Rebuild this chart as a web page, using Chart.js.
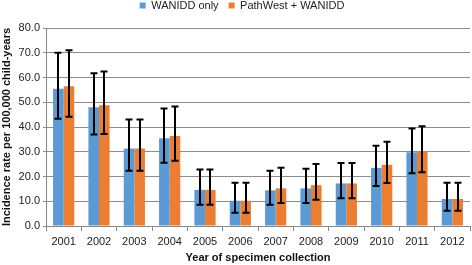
<!DOCTYPE html>
<html>
<head>
<meta charset="utf-8">
<script src="https://cdn.jsdelivr.net/npm/chart.js@4/dist/chart.umd.min.js"></script>
<style>
  html, body { margin: 0; padding: 0; background: #fff; }
  #wrap { width: 472px; height: 265px; }
</style>
</head>
<body>
<div id="wrap"><canvas id="chart"></canvas></div>
<script>
const years = ['2001', '2002', '2003', '2004', '2005', '2006', '2007', '2008', '2009', '2010', '2011', '2012'];

const wanidd = [55.5, 48.0, 31.3, 35.5, 14.6, 10.2, 14.4, 15.2, 17.2, 23.5, 29.8, 10.9];
const wanidLow = [43.3, 37.0, 22.3, 25.6, 8.6, 5.4, 8.6, 9.3, 11.2, 16.2, 21.3, 6.2];
const wanidHigh = [70.0, 61.7, 43.0, 47.5, 22.8, 17.5, 22.3, 23.1, 25.5, 32.4, 39.4, 17.5];

const pathwest = [56.5, 48.8, 31.3, 36.4, 14.6, 10.2, 15.2, 16.5, 17.2, 24.7, 30.1, 10.9];
const pathLow = [44.1, 37.2, 22.3, 26.4, 8.6, 5.4, 9.3, 10.6, 11.2, 17.4, 21.7, 6.2];
const pathHigh = [71.0, 62.4, 43.0, 48.3, 22.8, 17.5, 23.5, 25.1, 25.5, 34.0, 40.3, 17.5];

const yTicks = [0, 10, 20, 30, 40, 50, 60, 70, 80];

const lows = [wanidLow, pathLow];
const highs = [wanidHigh, pathHigh];

// draws the confidence whiskers on top of the bars
const errorBars = {
    id: 'errorBars',
    afterDatasetsDraw(chart) {
        const ctx = chart.ctx;
        const y = chart.scales.y;
        ctx.save();
        ctx.strokeStyle = '#000';
        ctx.lineWidth = 2;
        chart.data.datasets.forEach((ds, d) => {
            chart.getDatasetMeta(d).data.forEach((bar, i) => {
                const x = Math.round(bar.x);
                const top = y.getPixelForValue(highs[d][i]);
                const bottom = y.getPixelForValue(lows[d][i]);
                ctx.beginPath();
                ctx.moveTo(x, top);
                ctx.lineTo(x, bottom);
                ctx.moveTo(x - 3.5, top);
                ctx.lineTo(x + 3.5, top);
                ctx.moveTo(x - 3.5, bottom);
                ctx.lineTo(x + 3.5, bottom);
                ctx.stroke();
            });
        });
        ctx.restore();
    }
};

// legend sits higher and a little right of centre, like the original
const legendPlace = {
    id: 'legendPlace',
    beforeInit(chart) {
        const fit = chart.legend.fit;
        chart.legend.fit = function() {
            fit.call(this);
            this.height = 38;
        };
    },
    afterLayout(chart) {
        chart.legend.left += 7;
        chart.legend.right += 7;
    }
};

const font = { family: '"Liberation Sans", Arial, sans-serif', size: 11 };

new Chart(document.getElementById('chart'), {
    type: 'bar',
    data: {
        labels: years,
        datasets: [{
            label: 'WANIDD only',
            data: wanidd,
            backgroundColor: '#5b9bd5'
        }, {
            label: 'PathWest + WANIDD',
            data: pathwest,
            backgroundColor: '#ed7d31'
        }]
    },
    options: {
        responsive: true,
        maintainAspectRatio: false,
        animation: false,
        layout: { padding: { top: -10, right: 2, bottom: 0, left: 0 } },
        datasets: { bar: { categoryPercentage: 0.6, barPercentage: 1.0 } },
        plugins: {
            legend: {
                position: 'top',
                labels: {
                    font: font,
                    color: '#222',
                    boxWidth: 6,
                    boxHeight: 6,
                    padding: 10
                }
            },
            tooltip: { enabled: false }
        },
        scales: {
            x: {
                grid: { drawOnChartArea: false, drawTicks: true, tickLength: 5, color: '#888' },
                border: { color: '#888' },
                ticks: { font: font, color: '#222', padding: 4, maxRotation: 0 },
                title: {
                    display: true,
                    text: 'Year of specimen collection',
                    font: { family: font.family, size: 11, weight: 'bold' },
                    color: '#111',
                    padding: { top: 2, bottom: 0 }
                },
                afterFit(scale) { scale.height = 39; }
            },
            y: {
                min: 0,
                max: 80,
                afterBuildTicks(scale) { scale.ticks = yTicks.map(v => ({ value: v })); },
                grid: { color: '#8c8c8c', lineWidth: 1, drawTicks: true, tickLength: 3 },
                border: { color: '#888' },
                ticks: {
                    font: font,
                    color: '#222',
                    padding: 3,
                    callback: v => v.toFixed(1)
                },
                title: {
                    display: true,
                    text: 'Incidence rate per 100,000 child-years',
                    font: { family: font.family, size: 11, weight: 'bold' },
                    color: '#111',
                    padding: { top: 0, bottom: 1 }
                },
                afterFit(scale) { scale.width = 46; }
            }
        }
    },
    plugins: [errorBars, legendPlace]
});
</script>
</body>
</html>
